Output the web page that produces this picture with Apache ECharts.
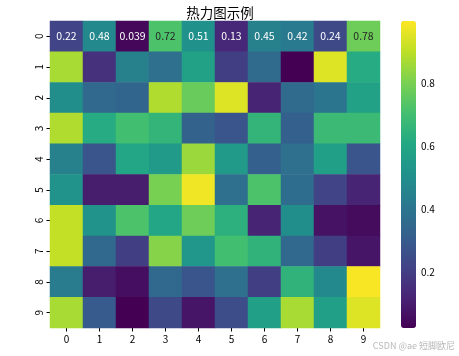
<!DOCTYPE html>
<html><head><meta charset="utf-8">
<script src="https://cdn.jsdelivr.net/npm/echarts@6/dist/echarts.min.js"></script>
<style>html,body{margin:0;padding:0;background:#fff}#c{width:459px;height:356px}</style>
</head><body><div id="c"></div>
<script>
const xCats = ['0','1','2','3','4','5','6','7','8','9'];
const yCats = ['0','1','2','3','4','5','6','7','8','9'];
const row0 = [0.22,0.48,0.039,0.72,0.51,0.13,0.45,0.42,0.24,0.78];
const row1 = [0.87,0.16,0.45,0.38,0.58,0.20,0.36,0.02,0.95,0.62];
const row2 = [0.50,0.35,0.34,0.88,0.77,0.95,0.12,0.36,0.40,0.58];
const row3 = [0.88,0.62,0.70,0.66,0.33,0.28,0.66,0.32,0.68,0.68];
const row4 = [0.45,0.28,0.60,0.55,0.85,0.55,0.32,0.38,0.57,0.28];
const row5 = [0.52,0.10,0.10,0.80,0.98,0.38,0.72,0.37,0.22,0.12];
const row6 = [0.91,0.52,0.72,0.60,0.78,0.64,0.12,0.50,0.07,0.05];
const row7 = [0.91,0.35,0.20,0.82,0.53,0.70,0.65,0.35,0.20,0.08];
const row8 = [0.43,0.10,0.06,0.35,0.28,0.38,0.20,0.65,0.48,0.99];
const row9 = [0.87,0.30,0.02,0.24,0.08,0.25,0.57,0.87,0.57,0.95];
const rows = [row0,row1,row2,row3,row4,row5,row6,row7,row8,row9];
const annotatedRows = [0];
const cbTicks = [0.2,0.4,0.6,0.8];
const vMin = 0.023, vMax = 0.998;
const viridis = ['#440154','#482475','#414487','#355f8d','#2a788e','#21918c','#22a884','#44bf70','#7ad151','#bddf26','#fde725'];

const data = [];
rows.forEach((r, yi) => r.forEach((v, xi) => {
  const show = annotatedRows.indexOf(yi) >= 0;
  data.push({value: [xi, yi, v], label: {show: show, color: v > 0.6 ? '#262626' : '#ffffff'}});
}));

const font = '"Noto Sans CJK SC", "DejaVu Sans", sans-serif';
const chart = echarts.init(document.getElementById('c'));
chart.setOption({
  animation: false,
  textStyle: {fontFamily: font},
  title: {text: '热力图示例', left: 215, top: 1, textAlign: 'center',
    textStyle: {fontSize: 13.5, fontWeight: 'normal', color: '#000', fontFamily: font}},
  grid: [
    {left: 50, top: 21, width: 330, height: 307},
    {left: 401, top: 21, width: 15, height: 307}
  ],
  xAxis: [
    {type: 'category', data: xCats, gridIndex: 0, axisLine: {show: false},
      axisTick: {show: true, length: 3.5, alignWithLabel: true, lineStyle: {color: '#000'}},
      axisLabel: {fontSize: 10, color: '#000', margin: 6, fontFamily: font}, splitLine: {show: false}},
    {type: 'value', gridIndex: 1, show: false, min: 0, max: 1}
  ],
  yAxis: [
    {type: 'category', data: yCats, gridIndex: 0, inverse: true, axisLine: {show: false},
      axisTick: {show: true, length: 3.5, alignWithLabel: true, lineStyle: {color: '#000'}},
      axisLabel: {fontSize: 10, color: '#000', rotate: 90, margin: 6, fontFamily: font}, splitLine: {show: false}},
    {type: 'value', gridIndex: 1, position: 'right', min: vMin, max: vMax,
      axisLine: {show: false}, splitLine: {show: false},
      axisTick: {show: true, length: 3.5, inside: false, customValues: cbTicks, lineStyle: {color: '#000'}},
      axisLabel: {fontSize: 10, color: '#000', margin: 5, customValues: cbTicks, fontFamily: font,
        formatter: v => String(Math.round(v * 10) / 10)}}
  ],
  visualMap: {
    type: 'continuous', min: vMin, max: vMax, seriesIndex: 0, dimension: 2,
    calculable: false, realtime: false, text: null, showLabel: false,
    orient: 'vertical', left: 401, top: 21, itemWidth: 15, itemHeight: 307, padding: 0,
    inRange: {color: viridis}, hoverLink: false
  },
  series: [
    {type: 'heatmap', xAxisIndex: 0, yAxisIndex: 0, data: data,
      label: {fontSize: 10.5, fontFamily: font, formatter: p => String(Number(p.value[2].toPrecision(2)))},
      emphasis: {disabled: true}, itemStyle: {borderWidth: 0}},
    {type: 'line', xAxisIndex: 1, yAxisIndex: 1, data: [], silent: true}
  ],
  graphic: [
    {type: 'text', right: 4, bottom: 6, silent: true,
      style: {text: 'CSDN @ae 短脚欧尼', fontSize: 9, fill: '#b8b8b8', fontFamily: font}}
  ]
});
</script></body></html>
